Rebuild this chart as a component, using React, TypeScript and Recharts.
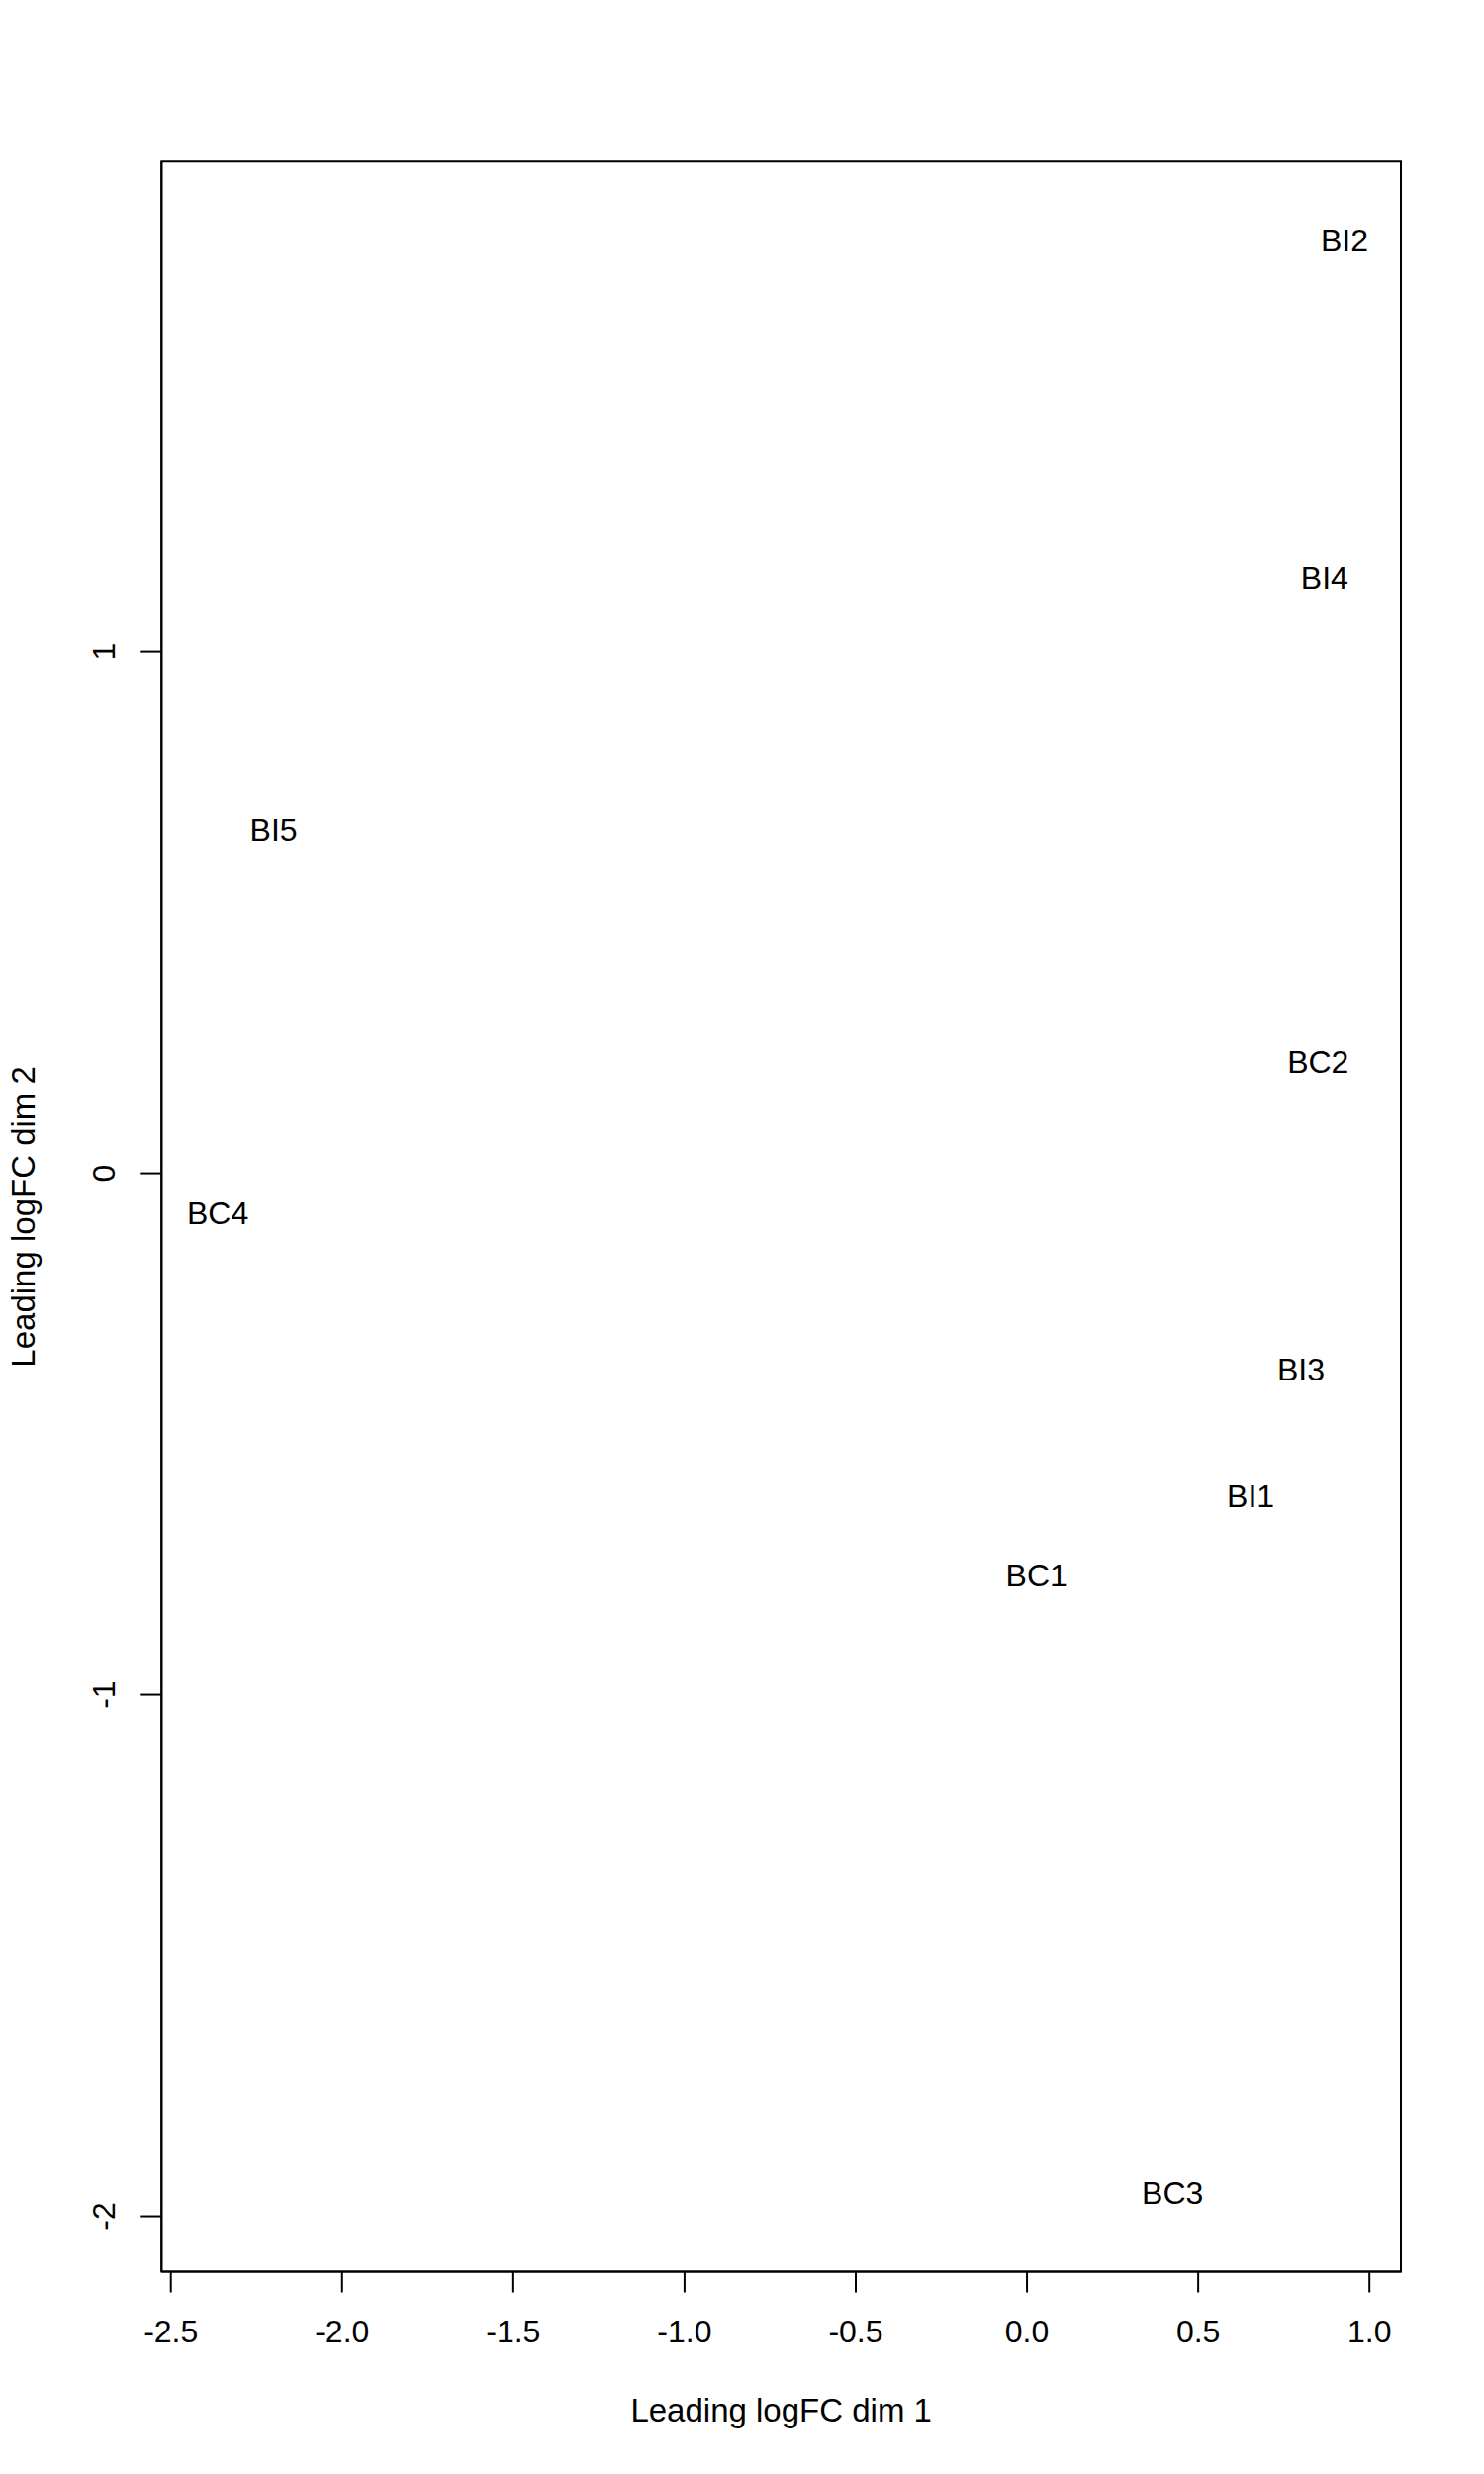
import React from "react";
import {
  ScatterChart,
  Scatter,
  XAxis,
  YAxis,
  ReferenceArea,
  Label,
} from "recharts";

// ---- data (MDS plot) ----
const sampleNames = ["BI1", "BI2", "BI3", "BI4", "BI5", "BC1", "BC2", "BC3", "BC4"];
const dim1Values = [0.653, 0.927, 0.8, 0.869, -2.2, 0.028, 0.85, 0.425, -2.363];
const dim2Values = [-0.619, 1.788, -0.377, 1.142, 0.658, -0.772, 0.213, -1.956, -0.078];

const xTicks = [-2.5, -2.0, -1.5, -1.0, -0.5, 0.0, 0.5, 1.0];
const yTicks = [-2, -1, 0, 1];

const xDomain: [number, number] = [-2.5272, 1.0919];
const yDomain: [number, number] = [-2.1062, 1.9399];

const xTitle = "Leading logFC dim 1";
const yTitle = "Leading logFC dim 2";

const data = sampleNames.map((name, i) => ({
  name,
  x: dim1Values[i],
  y: dim2Values[i],
}));

const FONT = "'Liberation Sans', Arial, Helvetica, sans-serif";
const FS = 32;
const FS_TITLE = 33;

const XTick = (props: any) => {
  const { x, y, payload } = props;
  return (
    <text
      x={x}
      y={y + 50.2}
      textAnchor="middle"
      fontFamily={FONT}
      fontSize={FS}
      fill="#000"
    >
      {Number(payload.value).toFixed(1)}
    </text>
  );
};

const YTick = (props: any) => {
  const { x, y, payload } = props;
  const bx = x - 26.6;
  return (
    <text
      x={bx}
      y={y}
      transform={`rotate(-90, ${bx}, ${y})`}
      textAnchor="middle"
      fontFamily={FONT}
      fontSize={FS}
      fill="#000"
    >
      {String(payload.value)}
    </text>
  );
};

const XTitle = (props: any) => {
  const vb = props.viewBox || {};
  const cx = vb.x + vb.width / 2;
  const by = vb.y + 151.5;
  return (
    <text x={cx} y={by} textAnchor="middle" fontFamily={FONT} fontSize={FS_TITLE} fill="#000">
      {xTitle}
    </text>
  );
};

const YTitle = (props: any) => {
  const vb = props.viewBox || {};
  const bx = vb.x + vb.width - 127.8;
  const cy = vb.y + vb.height / 2;
  return (
    <text
      x={bx}
      y={cy}
      transform={`rotate(-90, ${bx}, ${cy})`}
      textAnchor="middle"
      fontFamily={FONT}
      fontSize={FS_TITLE}
      fill="#000"
    >
      {yTitle}
    </text>
  );
};

const LabelShape = (props: any) => {
  const { cx, cy, payload } = props;
  return (
    <text
      x={cx}
      y={cy + 10.8}
      textAnchor="middle"
      fontFamily={FONT}
      fontSize={FS}
      fill="#000"
    >
      {payload.name}
    </text>
  );
};

export default function App() {
  return (
    <div style={{ position: "absolute", left: 0, top: 0, background: "#fff" }}>
      <ScatterChart
        width={1500}
        height={2500}
        margin={{ top: 163.3, left: 63.3, right: 84, bottom: 104.5 }}
      >
        <XAxis
          type="number"
          dataKey="x"
          domain={xDomain}
          ticks={xTicks}
          interval={0}
          allowDataOverflow
          height={100}
          tickSize={21}
          tickMargin={0}
          axisLine={{ stroke: "#000", strokeWidth: 2 }}
          tickLine={{ stroke: "#000", strokeWidth: 2 }}
          tick={<XTick />}
        >
          <Label content={<XTitle />} />
        </XAxis>
        <YAxis
          type="number"
          dataKey="y"
          domain={yDomain}
          ticks={yTicks}
          interval={0}
          allowDataOverflow
          width={100}
          tickSize={21}
          tickMargin={0}
          axisLine={{ stroke: "#000", strokeWidth: 2 }}
          tickLine={{ stroke: "#000", strokeWidth: 2 }}
          tick={<YTick />}
        >
          <Label content={<YTitle />} />
        </YAxis>
        <ReferenceArea
          x1={xDomain[0]}
          x2={xDomain[1]}
          y1={yDomain[0]}
          y2={yDomain[1]}
          fill="none"
          fillOpacity={0}
          stroke="#000"
          strokeWidth={2}
          strokeOpacity={1}
          ifOverflow="visible"
        />
        <Scatter data={data} shape={<LabelShape />} isAnimationActive={false} />
      </ScatterChart>
    </div>
  );
}
